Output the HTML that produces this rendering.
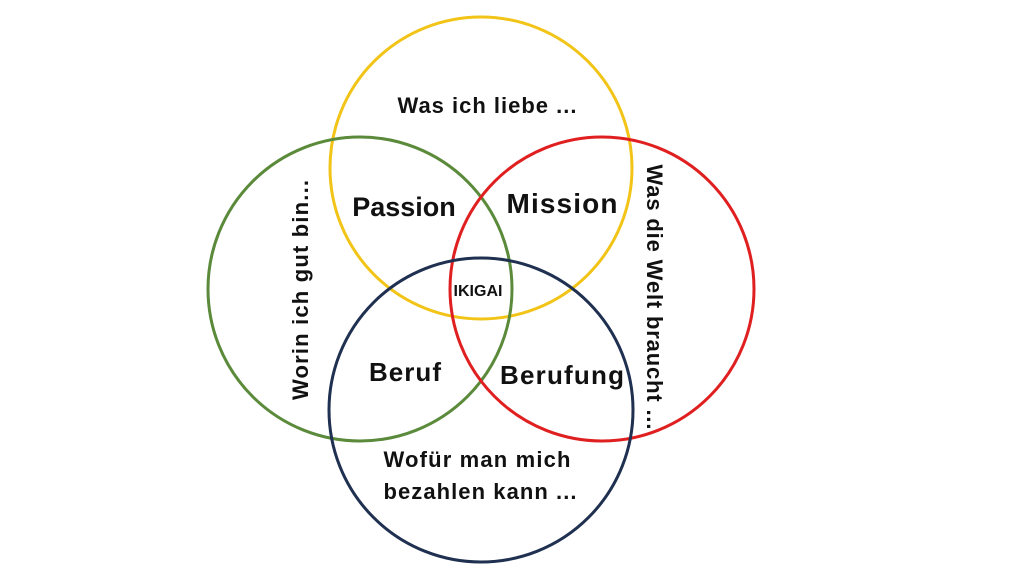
<!DOCTYPE html>
<html><head><meta charset="utf-8"><style>
html,body{margin:0;padding:0;background:#fff;}
svg{display:block;}
text{font-family:"Liberation Sans",sans-serif;font-weight:bold;fill:#111;}
</style></head><body>
<svg width="1024" height="576" viewBox="0 0 1024 576">
<rect width="1024" height="576" fill="#fff"/>
<circle cx="481" cy="168" r="151" fill="none" stroke="#f2c418" stroke-width="3"/>
<circle cx="360" cy="289" r="152" fill="none" stroke="#5a8a3a" stroke-width="3"/>
<circle cx="602" cy="289" r="152" fill="none" stroke="#e02020" stroke-width="3"/>
<circle cx="481" cy="410" r="152" fill="none" stroke="#1f3050" stroke-width="3"/>
<text x="487" y="113" font-size="22" text-anchor="middle" textLength="179">Was ich liebe ...</text>
<text x="404" y="216" font-size="27" text-anchor="middle">Passion</text>
<text x="562" y="213" font-size="28" text-anchor="middle" textLength="111">Mission</text>
<text x="478" y="296" font-size="16" text-anchor="middle">IKIGAI</text>
<text x="405" y="381" font-size="26" text-anchor="middle" textLength="72">Beruf</text>
<text x="562" y="384" font-size="26" text-anchor="middle" textLength="124">Berufung</text>
<text x="477" y="467" font-size="22" text-anchor="middle" textLength="187">Wofür man mich</text>
<text x="480" y="499" font-size="22" text-anchor="middle" textLength="193">bezahlen kann ...</text>
<text transform="translate(308,290) rotate(-90)" font-size="22" text-anchor="middle" textLength="220">Worin ich gut bin...</text>
<text transform="translate(647,297) rotate(90)" font-size="22" text-anchor="middle" textLength="265">Was die Welt braucht ...</text>
</svg>
</body></html>
